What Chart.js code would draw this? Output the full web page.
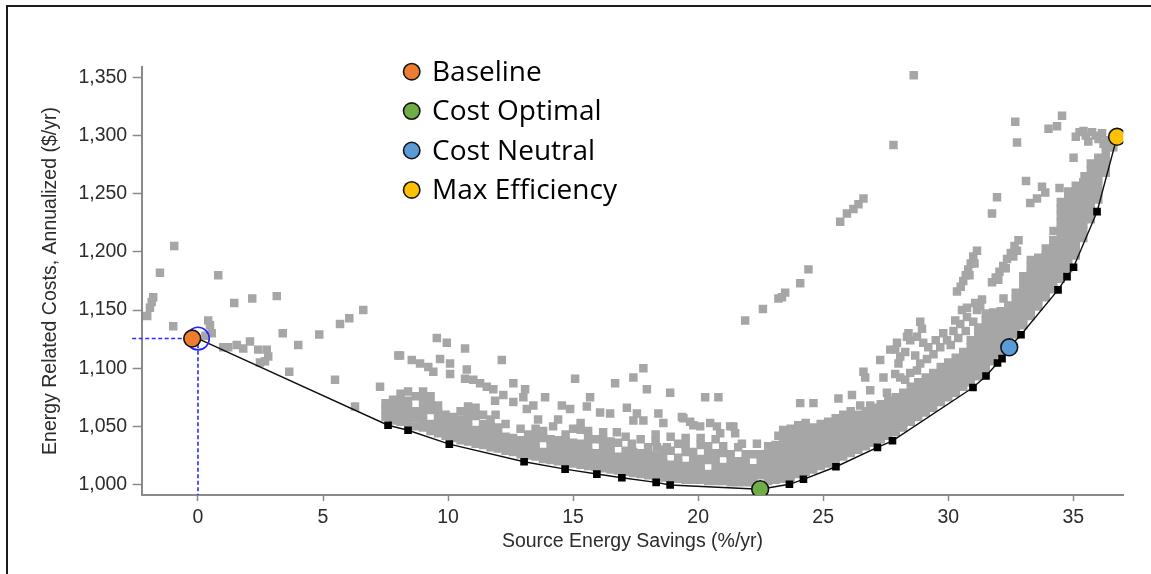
<!DOCTYPE html>
<html>
<head>
<meta charset="utf-8">
<script src="https://cdn.jsdelivr.net/npm/chart.js@4.4.1/dist/chart.umd.min.js"></script>
<style>
  html, body { margin: 0; padding: 0; background: #fff; }
  #wrap { position: relative; width: 1151px; height: 574px; overflow: hidden; }
  #chart { position: absolute; left: 0; top: 0; }
  #frame { position: absolute; left: 6px; top: 5px; width: 1160px; height: 580px;
           border-top: 2px solid #1c1c1c; border-left: 2px solid #1c1c1c; pointer-events: none; }
</style>
</head>
<body>
<div id="wrap">
  <canvas id="chart" width="1151" height="574"></canvas>
  <div id="frame"></div>
</div>
<script>
// Axis ranges and tick values
const xRange = [-2.25, 37];
const yRange = [991, 1359];
const xTicks = [0, 5, 10, 15, 20, 25, 30, 35];
const yTicks = [1000, 1050, 1100, 1150, 1200, 1250, 1300, 1350];

// Highlighted packages
const markerNames = ['Baseline', 'Cost Optimal', 'Cost Neutral', 'Max Efficiency'];
const markerX = [-0.23, 22.48, 32.44, 36.75];
const markerY = [1125.5, 996, 1118, 1299];
const markerColors = ['#ED7D31', '#70AD47', '#5B9BD5', '#FFC000'];

// Selected package (ring + guide lines)
const selectedX = 0;
const selectedY = 1125.5;

// Least-cost frontier packages
const frontierX = [7.6, 8.4, 10.05, 13.04, 14.68, 15.95, 16.95, 18.32, 18.88, 23.65, 24.21, 25.51,
  27.17, 27.77, 30.99, 31.51, 31.97, 32.15, 32.91, 34.39, 34.75, 35.01, 35.95];
const frontierY = [1051, 1046.7, 1034.7, 1019.6, 1013.3, 1009, 1005.8, 1001.9, 999.6, 1000.2, 1004.5, 1015.3,
  1031.9, 1037.6, 1083.4, 1093.3, 1104.5, 1108.2, 1128.8, 1167.4, 1178.8, 1186.8, 1234.6];

// Simulated packages: each row is [savings, cost, cost, ...]
const bandColumns = [
  [7.5, 1058, 1064, 1070],
  [7.8, 1055, 1061, 1067, 1073],
  [8.1, 1054, 1060, 1066, 1072, 1078],
  [8.4, 1053, 1059, 1066, 1072, 1080],
  [8.7, 1050, 1057, 1063, 1076],
  [9.0, 1049, 1055, 1061, 1067, 1074, 1080],
  [9.3, 1046, 1052, 1064, 1070, 1076],
  [9.6, 1044, 1050, 1056, 1062, 1068],
  [9.9, 1042, 1048, 1054, 1060],
  [10.2, 1040, 1046, 1052, 1058],
  [10.5, 1038, 1044, 1050, 1056, 1063],
  [10.8, 1037, 1043, 1049, 1055, 1061, 1067],
  [11.1, 1035, 1041, 1047, 1059, 1066],
  [11.4, 1034, 1040, 1046, 1052, 1060],
  [11.7, 1032, 1038, 1044, 1050, 1056],
  [12.0, 1031, 1037, 1043, 1049],
  [12.3, 1029, 1035, 1041],
  [12.6, 1028, 1034, 1040],
  [12.9, 1026, 1032, 1038],
  [13.2, 1025, 1031, 1037, 1043],
  [13.5, 1024, 1030, 1036, 1042, 1048],
  [13.8, 1022, 1028, 1040, 1046],
  [14.1, 1021, 1027, 1033, 1039],
  [14.4, 1020, 1026, 1032, 1038],
  [14.7, 1019, 1025, 1031, 1037, 1043],
  [15.0, 1018, 1024, 1030, 1036, 1048],
  [15.3, 1017, 1023, 1029, 1035, 1047, 1053],
  [15.6, 1016, 1022, 1028, 1034, 1040, 1046],
  [15.9, 1015, 1021, 1027, 1039],
  [16.2, 1014, 1020, 1026, 1032, 1038, 1045],
  [16.5, 1013, 1019, 1025, 1031, 1037],
  [16.8, 1012, 1018, 1024, 1036],
  [17.1, 1011, 1017, 1023, 1029, 1041],
  [17.4, 1010, 1016, 1022, 1028],
  [17.7, 1009, 1015, 1021, 1027, 1039],
  [18.0, 1008, 1014, 1020, 1026, 1032],
  [18.3, 1007, 1013, 1019, 1025, 1037, 1043],
  [18.6, 1006, 1012, 1018, 1024, 1030],
  [18.9, 1005, 1011, 1017, 1029, 1041],
  [19.2, 1005, 1011, 1017, 1023, 1035],
  [19.5, 1004, 1010, 1016, 1028, 1034, 1040],
  [19.8, 1004, 1010, 1016, 1022, 1028],
  [20.1, 1004, 1010, 1016, 1022, 1034, 1040],
  [20.4, 1003, 1009, 1021, 1027, 1033],
  [20.7, 1003, 1009, 1015, 1021, 1027, 1039],
  [21.0, 1003, 1009, 1015, 1027, 1033],
  [21.3, 1002, 1008, 1014, 1020, 1026],
  [21.6, 1002, 1008, 1014, 1020, 1032],
  [21.9, 1002, 1008, 1014, 1020, 1026],
  [22.2, 1002, 1008, 1014, 1026],
  [22.5, 1008, 1014, 1020, 1026],
  [22.8, 1003, 1009, 1015, 1021, 1027, 1033],
  [23.1, 1004, 1010, 1016, 1022, 1028, 1034],
  [23.4, 1005, 1011, 1017, 1023, 1029, 1035, 1041, 1047],
  [23.7, 1006, 1012, 1018, 1024, 1030, 1036, 1042, 1048],
  [24.0, 1009, 1015, 1021, 1027, 1033, 1039, 1045, 1051],
  [24.3, 1011, 1017, 1023, 1029, 1035, 1041, 1047, 1053],
  [24.6, 1013, 1019, 1025, 1031, 1037, 1043, 1049],
  [24.9, 1016, 1022, 1028, 1034, 1040, 1046, 1052],
  [25.2, 1018, 1024, 1030, 1036, 1042, 1048, 1054],
  [25.5, 1021, 1027, 1033, 1039, 1045, 1051, 1057],
  [25.8, 1024, 1030, 1036, 1042, 1048, 1054, 1060],
  [26.1, 1027, 1033, 1039, 1045, 1051, 1057, 1063],
  [26.4, 1030, 1036, 1042, 1048, 1054, 1060],
  [26.7, 1033, 1039, 1045, 1051, 1057, 1063],
  [27.0, 1036, 1042, 1048, 1054, 1060, 1066],
  [27.3, 1039, 1045, 1051, 1057, 1063, 1069],
  [27.6, 1042, 1048, 1054, 1060, 1066, 1072],
  [27.9, 1045, 1051, 1057, 1063, 1069, 1075],
  [28.2, 1049, 1055, 1061, 1067, 1073, 1079],
  [28.5, 1054, 1060, 1066, 1072, 1078, 1084],
  [28.8, 1058, 1064, 1070, 1076, 1082, 1088],
  [29.1, 1062, 1068, 1074, 1080, 1086, 1092],
  [29.4, 1066, 1072, 1078, 1084, 1090, 1096],
  [29.7, 1071, 1077, 1083, 1089, 1095, 1101],
  [30.0, 1075, 1081, 1087, 1093, 1099, 1105],
  [30.3, 1079, 1085, 1091, 1097, 1103, 1109],
  [30.6, 1084, 1090, 1096, 1102, 1108, 1114],
  [30.9, 1088, 1094, 1100, 1106, 1112, 1118, 1124],
  [31.2, 1093, 1099, 1105, 1111, 1117, 1123, 1129, 1135],
  [31.5, 1099, 1105, 1111, 1117, 1123, 1129, 1135, 1141, 1147],
  [31.8, 1106, 1112, 1118, 1124, 1130, 1136, 1142, 1148],
  [32.1, 1113, 1119, 1125, 1131, 1137, 1143, 1149],
  [32.4, 1124, 1130, 1136, 1142, 1148, 1154],
  [32.7, 1129, 1135, 1141, 1147, 1153, 1159, 1165],
  [33.0, 1137, 1143, 1149, 1155, 1161, 1167, 1173, 1179],
  [33.3, 1145, 1151, 1157, 1163, 1169, 1175, 1181, 1187, 1193],
  [33.6, 1153, 1159, 1165, 1171, 1177, 1183, 1189, 1195],
  [33.9, 1161, 1167, 1173, 1179, 1185, 1191, 1197, 1203],
  [34.2, 1168, 1174, 1180, 1186, 1192, 1198, 1204, 1210],
  [34.5, 1177, 1183, 1189, 1195, 1201, 1207, 1213, 1219, 1225, 1231, 1237, 1243],
  [34.8, 1186, 1192, 1198, 1204, 1210, 1216, 1222, 1228, 1234, 1240, 1246, 1252],
  [35.1, 1197, 1203, 1209, 1215, 1221, 1227, 1233, 1239, 1245, 1251, 1257],
  [35.4, 1212, 1218, 1224, 1230, 1236, 1242, 1248, 1254, 1260],
  [35.7, 1228, 1234, 1240, 1246, 1252, 1258, 1264, 1270, 1276],
  [36.0, 1245, 1251, 1257, 1263, 1269, 1275, 1281],
  [36.3, 1268, 1274, 1280, 1286, 1292],
  [36.6, 1290]
];

const scatterWest = [
  [-2.03, 1145], [-1.92, 1152], [-1.85, 1157], [-1.79, 1161], [-1.52, 1182], [-0.95, 1205],
  [-0.99, 1136], [0.81, 1180], [0.41, 1141], [0.48, 1137], [0.55, 1130], [0.3, 1128],
  [1.45, 1156], [2.17, 1160], [3.15, 1162], [1.01, 1118], [1.21, 1118], [1.55, 1120],
  [1.81, 1117], [2.08, 1123], [2.41, 1116], [2.75, 1116], [2.81, 1110], [2.68, 1106],
  [2.48, 1105], [3.39, 1130], [4.01, 1120], [4.85, 1129], [3.65, 1097], [5.48, 1090],
  [5.68, 1138], [6.05, 1143], [6.61, 1150], [6.28, 1067], [7.28, 1084], [8.01, 1111],
  [7.61, 1070], [7.81, 1064]
];

const scatterUpper = [
  [9.55, 1126], [9.95, 1122], [10.68, 1117], [8.08, 1111], [8.55, 1107], [8.88, 1104],
  [9.21, 1101], [9.41, 1097], [9.68, 1108], [10.08, 1104], [10.08, 1095], [10.75, 1099],
  [10.68, 1091], [11.01, 1090], [11.28, 1087], [11.55, 1084], [11.81, 1082], [12.15, 1107],
  [12.61, 1087], [13.08, 1082], [11.88, 1072], [12.21, 1077], [12.61, 1071], [13.01, 1075],
  [13.15, 1065], [13.41, 1068], [13.88, 1075], [14.55, 1068], [14.88, 1065], [15.08, 1091],
  [15.68, 1075], [15.55, 1067], [16.08, 1062], [16.48, 1061], [16.68, 1087], [17.41, 1092],
  [17.81, 1100], [17.95, 1082], [18.88, 1079], [20.28, 1075], [20.81, 1075], [17.15, 1066],
  [17.55, 1061], [17.41, 1055], [17.81, 1055], [18.41, 1061], [18.61, 1053], [19.41, 1057],
  [19.81, 1051], [20.08, 1050], [20.48, 1053], [20.75, 1050], [20.88, 1044], [21.41, 1050],
  [21.48, 1044], [21.75, 1035], [22.35, 1035], [23.21, 1042], [16.75, 1045], [17.35, 1035],
  [18.35, 1032], [18.75, 1032], [19.35, 1058], [19.68, 1054], [21.28, 1050], [12.9, 1048],
  [12.3, 1052], [11.9, 1060], [13.6, 1056], [14.2, 1050], [14.4, 1056],
  [21.88, 1141], [22.59, 1151], [23.21, 1160], [23.48, 1165], [23.35, 1161], [24.08, 1173],
  [24.41, 1185], [25.68, 1226], [25.95, 1233], [26.21, 1237], [26.41, 1241], [26.61, 1246],
  [27.81, 1292], [28.62, 1352]
];

const scatterEast = [
  [24.08, 1070], [24.61, 1070], [25.61, 1074], [26.15, 1077], [26.88, 1081], [26.61, 1097],
  [27.28, 1107], [27.88, 1116], [28.41, 1130], [28.88, 1140], [26.48, 1068], [26.88, 1068],
  [27.55, 1079], [26.68, 1092], [27.41, 1092], [27.88, 1095], [28.08, 1092], [28.28, 1090],
  [28.48, 1096], [28.75, 1098], [27.95, 1122], [28.08, 1110], [28.28, 1114], [28.01, 1104],
  [28.48, 1124], [28.75, 1127], [28.95, 1134], [28.68, 1111], [28.88, 1104], [29.15, 1108],
  [29.41, 1112], [29.68, 1118], [29.95, 1124], [30.21, 1132], [30.48, 1138], [30.75, 1144],
  [30.28, 1141], [30.55, 1150], [31.15, 1150], [31.28, 1153], [30.75, 1152], [31.08, 1156],
  [31.35, 1159], [32.21, 1160], [29.2, 1118], [29.5, 1124], [29.8, 1130], [30.1, 1120],
  [30.4, 1126], [30.7, 1132], [31.0, 1140], [29.0, 1122], [27.68, 1116], [28.35, 1127],
  [32.68, 1312], [34.55, 1317], [34.01, 1306], [34.35, 1308], [32.75, 1294], [35.41, 1304],
  [35.75, 1303], [36.01, 1297], [36.21, 1293], [35.01, 1281], [35.88, 1273], [36.08, 1278],
  [35.45, 1265], [33.11, 1261], [33.75, 1256], [33.88, 1251], [33.55, 1246], [33.28, 1242],
  [34.45, 1255], [31.95, 1247], [31.75, 1233], [34.21, 1218], [35.25, 1303], [35.5, 1300],
  [35.6, 1295], [35.9, 1300], [36.15, 1302], [36.35, 1296], [36.45, 1290], [35.1, 1299],
  [32.81, 1210], [32.65, 1205], [32.5, 1199], [32.35, 1194], [32.2, 1188], [32.05, 1183],
  [31.9, 1178], [31.75, 1174], [32.6, 1196], [32.3, 1186], [32.0, 1176], [32.75, 1201],
  [31.15, 1201], [31.0, 1196], [30.9, 1190], [30.8, 1185], [30.7, 1180], [30.6, 1175],
  [30.5, 1170], [31.05, 1190], [30.85, 1180], [30.35, 1166]
];

// ---- assemble point lists ----
const cloudPoints = [];
bandColumns.forEach(row => {
  for (let i = 1; i < row.length; i++) cloudPoints.push({ x: row[0], y: row[i] });
});
[scatterWest, scatterUpper, scatterEast].forEach(list =>
  list.forEach(p => cloudPoints.push({ x: p[0], y: p[1] })));

const frontierPoints = frontierX.map((x, i) => ({ x, y: frontierY[i] }));
const frontierPath = [{ x: selectedX, y: selectedY }]
  .concat(frontierPoints)
  .concat(markerX.slice(1).map((x, i) => ({ x, y: markerY[i + 1] })))
  .sort((a, b) => a.x - b.x);

const guidePath = [
  { x: xRange[0] - 0.38, y: selectedY },
  { x: selectedX, y: selectedY },
  { x: selectedX, y: yRange[0] }
];

const markerSets = markerNames.map((name, i) => ({
  label: name,
  data: [{ x: markerX[i], y: markerY[i] }],
  pointRadius: 8.4,
  pointBackgroundColor: markerColors[i],
  pointBorderColor: '#141414',
  pointBorderWidth: 1.6,
  order: 1
}));

// Legend drawn inside the plot area
const markerLegend = {
  id: 'markerLegend',
  afterDraw(chart) {
    const ctx = chart.ctx;
    ctx.save();
    markerNames.forEach((name, i) => {
      const cy = 71.7 + i * 39.4;
      ctx.beginPath();
      ctx.arc(411.7, cy, 8.2, 0, Math.PI * 2);
      ctx.fillStyle = markerColors[i];
      ctx.fill();
      ctx.lineWidth = 1.6;
      ctx.strokeStyle = '#141414';
      ctx.stroke();
      ctx.font = '28px "Open Sans"';
      ctx.fillStyle = '#000';
      ctx.textBaseline = 'alphabetic';
      ctx.textAlign = 'left';
      ctx.fillText(name, 432, cy + 9.2);
    });
    ctx.restore();
  }
};

const axisGray = '#8a8a8a';
const labelColor = '#2c2c2c';
const tickFont = { family: '"Liberation Sans", Arial, sans-serif', size: 19.5 };

new Chart(document.getElementById('chart'), {
  type: 'scatter',
  data: {
    datasets: [
      ...markerSets,
      {
        label: 'selected',
        data: [{ x: selectedX, y: selectedY }],
        pointRadius: 11.3,
        pointBackgroundColor: 'rgba(255,255,255,0)',
        pointBorderColor: '#2424ff',
        pointBorderWidth: 1.6,
        order: 2
      },
      {
        label: 'guides',
        data: guidePath,
        showLine: true,
        borderColor: '#2a2aff',
        borderWidth: 1.6,
        borderDash: [4, 2.5],
        pointRadius: 0,
        clip: false,
        order: 3
      },
      {
        label: 'frontier markers',
        data: frontierPoints,
        pointStyle: 'rect',
        pointRadius: 5.4,
        pointBackgroundColor: '#000',
        pointBorderWidth: 0,
        order: 4
      },
      {
        label: 'frontier',
        data: frontierPath,
        showLine: true,
        borderColor: '#111',
        borderWidth: 1.4,
        pointRadius: 0,
        order: 5
      },
      {
        label: 'packages',
        data: cloudPoints,
        pointStyle: 'rect',
        pointRadius: 6,
        pointBackgroundColor: '#a6a6a6',
        pointBorderWidth: 0,
        order: 6
      }
    ]
  },
  options: {
    responsive: false,
    animation: false,
    devicePixelRatio: 1,
    events: [],
    layout: { padding: { left: 0, top: 67, right: 27.7, bottom: 0 } },
    plugins: { legend: { display: false }, tooltip: { enabled: false } },
    scales: {
      x: {
        type: 'linear',
        min: xRange[0],
        max: xRange[1],
        afterBuildTicks: s => { s.ticks = xTicks.map(v => ({ value: v })); },
        afterFit: s => { s.height = 79; },
        border: { color: axisGray, width: 2 },
        grid: { drawOnChartArea: false, drawTicks: true, tickLength: 6, tickColor: axisGray, tickWidth: 1.5 },
        ticks: { color: labelColor, font: tickFont, padding: 5, callback: v => String(v) },
        title: {
          display: true,
          text: 'Source Energy Savings (%/yr)',
          color: labelColor,
          font: tickFont,
          padding: { top: 0, bottom: 20.3 }
        }
      },
      y: {
        type: 'linear',
        min: yRange[0],
        max: yRange[1],
        afterBuildTicks: s => { s.ticks = yTicks.map(v => ({ value: v })); },
        afterFit: s => { s.width = 141.7; },
        border: { color: axisGray, width: 2 },
        grid: { drawOnChartArea: false, drawTicks: true, tickLength: 9, tickColor: axisGray, tickWidth: 1.5 },
        ticks: { color: labelColor, font: tickFont, padding: 5.5, callback: v => v.toLocaleString('en-US') },
        title: {
          display: true,
          text: 'Energy Related Costs, Annualized ($/yr)',
          color: labelColor,
          font: tickFont,
          padding: { top: 39.3, bottom: 0 }
        }
      }
    }
  },
  plugins: [markerLegend]
});
</script>
</body>
</html>
